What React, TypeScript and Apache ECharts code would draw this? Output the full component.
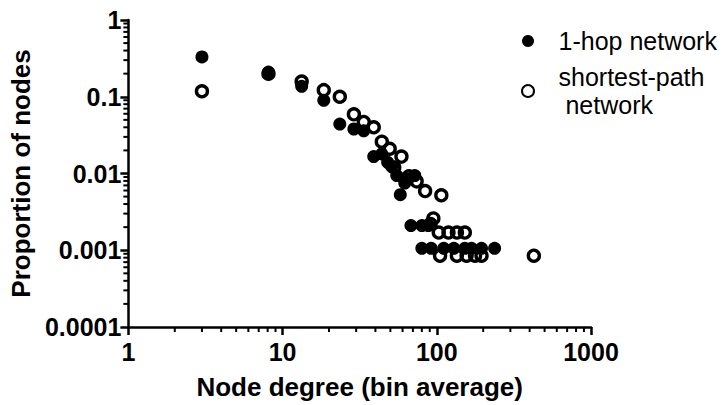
import React, { useEffect, useRef } from "react";
import * as echarts from "echarts";

const oneHopNetwork: [number, number][] = [
  [3.0, 0.33], [8.1, 0.21], [13.3, 0.137], [18.5, 0.09], [23.5, 0.044],
  [29, 0.038], [33.6, 0.036], [39, 0.0166], [44, 0.018], [48, 0.014],
  [51, 0.0123], [55, 0.0094], [58, 0.0053], [62, 0.0075], [65, 0.0085],
  [72, 0.0094], [68, 0.0021], [80, 0.0021], [88, 0.0021],
  [80, 0.00106], [92, 0.00106], [111, 0.00106], [129, 0.00106], [152, 0.00106],
  [168, 0.00106], [195, 0.00106], [237, 0.00106],
];

const shortestPathNetwork: [number, number][] = [
  [3.0, 0.118], [8.1, 0.2], [13.3, 0.158], [18.5, 0.122], [23.5, 0.1],
  [29, 0.059], [33.6, 0.047], [39, 0.04], [44, 0.026], [49.5, 0.021],
  [53, 0.012], [59, 0.0166], [66, 0.0092], [74, 0.0079], [84, 0.0059],
  [107, 0.0052], [95, 0.0026], [91, 0.0022],
  [103, 0.0017], [119, 0.0017], [135, 0.0017], [152, 0.0017],
  [105, 0.00085], [135, 0.00085], [156, 0.00085], [177, 0.00085], [195, 0.00085],
  [426, 0.00085],
];

const xTickLabels = ["1", "10", "100", "1000"];
const yTickLabels = ["0.0001", "0.001", "0.01", "0.1", "1"];
const xMinorTicks = [2, 3, 4, 5, 6, 7, 8, 9, 20, 30, 40, 50, 60, 70, 80, 90, 200, 300, 400, 500, 600, 700, 800, 900];
const yMinorTicks = [
  0.0002, 0.0003, 0.0004, 0.0005, 0.0006, 0.0007, 0.0008, 0.0009,
  0.002, 0.003, 0.004, 0.005, 0.006, 0.007, 0.008, 0.009,
  0.02, 0.03, 0.04, 0.05, 0.06, 0.07, 0.08, 0.09,
  0.2, 0.3, 0.4, 0.5, 0.6, 0.7, 0.8, 0.9,
];

const FONT = "'Liberation Sans', Arial, sans-serif";

export default function App() {
  const ref = useRef<HTMLDivElement>(null);
  useEffect(() => {
    document.body.style.margin = "0";
    if (!ref.current) return;
    const chart = echarts.init(ref.current, null, { renderer: "svg" });
    chart.setOption({
      animation: false,
      backgroundColor: "#fff",
      grid: { left: 127, right: 137, top: 20, bottom: 75 },
      legend: {
        orient: "vertical",
        left: 516,
        top: 22,
        itemWidth: 51,
        itemHeight: 12,
        itemGap: 8,
        icon: "circle",
        data: ["1-hop network", "shortest-path network"],
        formatter: (n: string) => (n === "shortest-path network" ? "shortest-path\n network" : n),
        textStyle: { fontSize: 25, fontFamily: FONT, color: "#000", lineHeight: 28 },
      },
      xAxis: {
        type: "log",
        logBase: 10,
        min: 1,
        max: 1000,
        name: "Node degree (bin average)",
        nameLocation: "middle",
        nameGap: 47,
        nameTextStyle: { fontSize: 26, fontWeight: "bold", fontFamily: FONT, color: "#000" },
        axisLine: { lineStyle: { color: "#000", width: 2.5 } },
        axisTick: { show: true, length: 8, lineStyle: { color: "#000", width: 2.5 } },
        axisLabel: {
          margin: 12,
          fontSize: 25,
          fontWeight: "bold",
          fontFamily: FONT,
          color: "#000",
          formatter: (v: number) => xTickLabels[Math.round(Math.log10(v))],
        },
        splitLine: { show: false },
      },
      yAxis: {
        type: "log",
        logBase: 10,
        min: 0.0001,
        max: 1,
        name: "Proportion of nodes",
        nameLocation: "middle",
        nameGap: 88,
        nameTextStyle: { fontSize: 26, fontWeight: "bold", fontFamily: FONT, color: "#000" },
        axisLine: { show: true, lineStyle: { color: "#000", width: 2.5 } },
        axisTick: { show: true, length: 8, lineStyle: { color: "#000", width: 2.5 } },
        axisLabel: {
          margin: 7,
          fontSize: 25,
          fontWeight: "bold",
          fontFamily: FONT,
          color: "#000",
          formatter: (v: number) => yTickLabels[Math.round(Math.log10(v)) + 4],
        },
        splitLine: { show: false },
      },
      series: [
        {
          type: "custom",
          name: "xminor",
          silent: true,
          data: xMinorTicks.map((v) => [v, 0.0001]),
          renderItem: (_p: any, api: any) => {
            const pt = api.coord([api.value(0), 0.0001]);
            return {
              type: "line",
              shape: { x1: pt[0], y1: pt[1], x2: pt[0], y2: pt[1] + 5 },
              style: { stroke: "#000", lineWidth: 2 },
            };
          },
        },
        {
          type: "custom",
          name: "yminor",
          silent: true,
          data: yMinorTicks.map((v) => [1, v]),
          renderItem: (_p: any, api: any) => {
            const pt = api.coord([1, api.value(1)]);
            return {
              type: "line",
              shape: { x1: pt[0] - 5, y1: pt[1], x2: pt[0], y2: pt[1] },
              style: { stroke: "#000", lineWidth: 2 },
            };
          },
        },
        {
          type: "scatter",
          name: "shortest-path network",
          data: shortestPathNetwork,
          symbol: "circle",
          symbolSize: 11,
          itemStyle: { color: "transparent", borderColor: "#000", borderWidth: 3.4, opacity: 1 },
          z: 3,
        },
        {
          type: "scatter",
          name: "1-hop network",
          data: oneHopNetwork,
          symbol: "circle",
          symbolSize: 13,
          itemStyle: { color: "#000", opacity: 1 },
          z: 4,
        },
      ],
    });
    return () => chart.dispose();
  }, []);
  return <div ref={ref} style={{ width: 728, height: 405 }} />;
}
